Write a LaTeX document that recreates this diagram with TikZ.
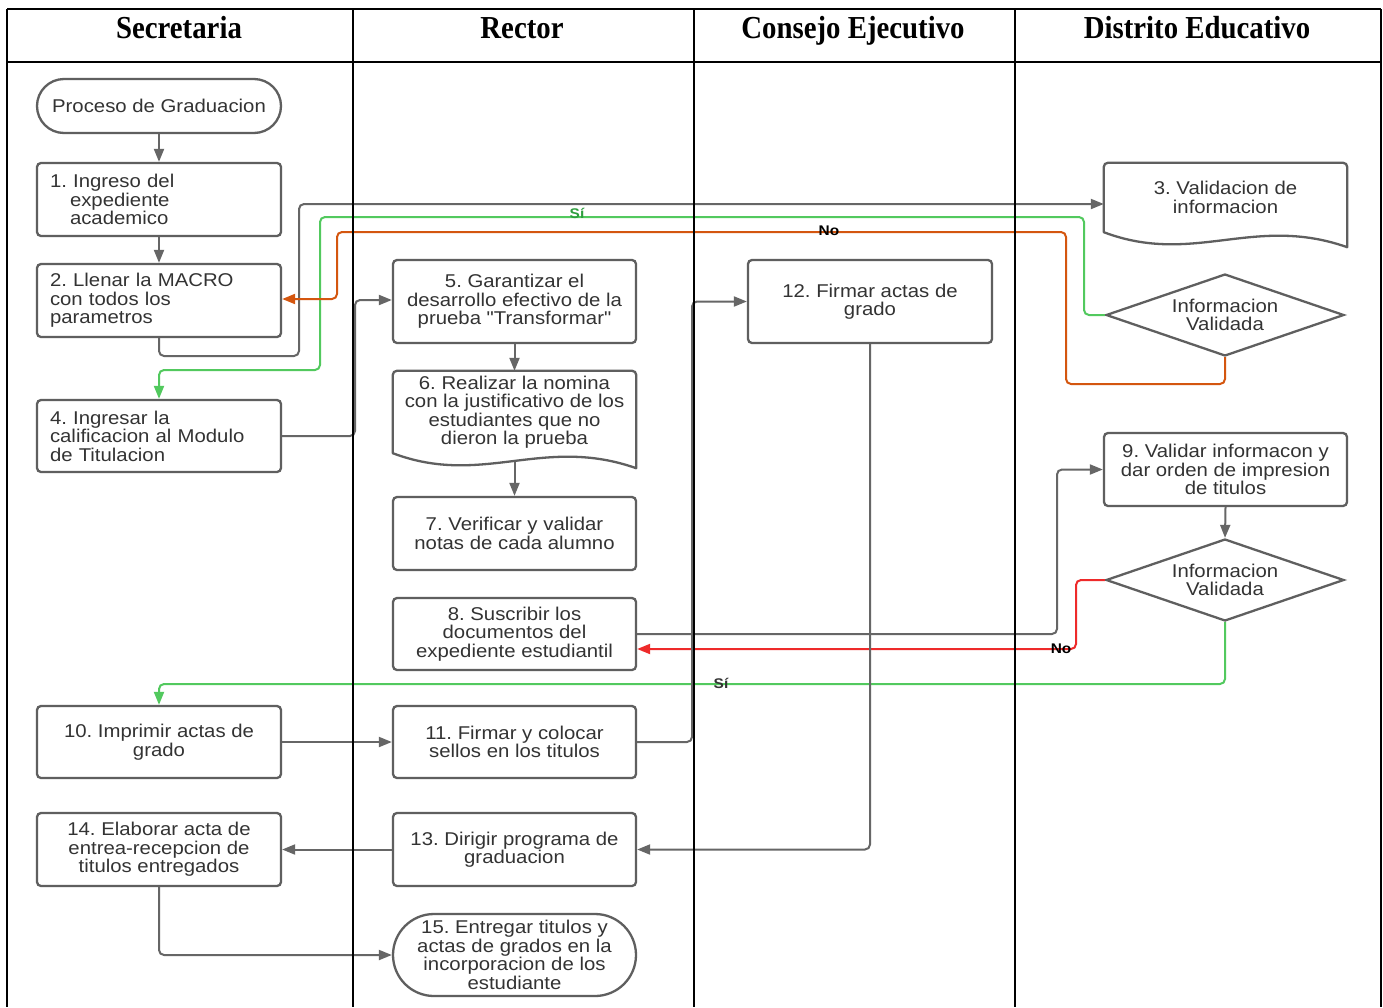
\documentclass[tikz,border=0pt]{standalone}
\usepackage{fontspec}
\setmainfont{Liberation Sans}[FakeStretch=1.1]
\newfontfamily\boxfamily{Liberation Sans}[FakeStretch=1.1]
\newfontfamily\headfont{Liberation Serif}[FakeStretch=0.9]
\usetikzlibrary{arrows.meta,shapes.geometric,calc}
\frenchspacing

\definecolor{boxline}{HTML}{5F5F5F}
\definecolor{boxtext}{HTML}{333333}
\definecolor{conngray}{HTML}{666666}
\definecolor{yesgreen}{HTML}{52C95E}
\definecolor{labgreen}{HTML}{2E9E3E}
\definecolor{nored}{HTML}{EE2A2A}
\definecolor{noorange}{HTML}{D4560F}

\newcommand\boxfont{\boxfamily\fontsize{18.5}{18.5}\selectfont}
\newcommand\lanefont{\headfont\bfseries\fontsize{32}{32}\selectfont}
\newcommand\labfont{\bfseries\fontsize{14}{14}\selectfont}

% document shape: flat top, wavy bottom edge
\newcommand\docpath[1]{%
  \draw[boxline, line width=2.3, line join=round]
    ($(#1.south east)+(0,15)$) .. controls ($(#1.south west)+(150,-18)$) and ($(#1.south west)+(90,34)$) .. (#1.south west)
    [rounded corners=4] -- (#1.north west) -- (#1.north east) [sharp corners] -- cycle;}

\tikzset{
  box/.style={draw=boxline, line width=2.3, rounded corners=4, text=boxtext,
    font=\boxfont, align=center, inner sep=0, minimum width=244, minimum height=73},
  leftbox/.style={box, align=left, text width=218},
  stadium/.style={box, rounded corners=#1},
  docbox/.style={inner sep=0, text=boxtext, font=\boxfont, align=center, minimum width=243},
  dia/.style={shape=diamond, draw=boxline, line width=2.3, aspect=2.9, inner sep=0,
    minimum width=238, minimum height=82, text=boxtext, font=\boxfont, align=center},
  conn/.style={draw=conngray, line width=2, rounded corners=5,
    -{Triangle[length=13,width=10]}},
  yesline/.style={conn, draw=yesgreen},
  noline/.style={conn, draw=noorange},
  redline/.style={conn, draw=nored},
  lbl/.style={font=\labfont, inner sep=0.5, anchor=south},
  lane/.style={draw=black, line width=2.2},
  headtxt/.style={font=\lanefont, anchor=base, text=black}
}

\begin{document}
\begin{tikzpicture}[x=1pt, y=-1pt]
\fill[white] (0,0) rectangle (1383,1007);
\useasboundingbox (0,0) rectangle (1383,1007);

% lane titles
\node[headtxt] (hsec) at (179,38) {Secretaria};
\node[headtxt] (hrec) at (522,38) {Rector};
\node[headtxt] (hcon) at (853,38) {Consejo Ejecutivo};
\node[headtxt] (hdis) at (1197,38) {Distrito Educativo};

% Secretaria
\node[stadium=27, minimum height=54] (start) at (159,106) {Proceso de Graduacion};
\node[leftbox] (n1) at (159,199.5) {1. Ingreso del\\\hspace*{20pt}expediente\\\hspace*{20pt}academico};
\node[leftbox] (n2) at (159,300.5) {2. Llenar la MACRO\\con todos los\\parametros};
\node[leftbox, minimum height=72] (n4) at (159,436) {4. Ingresar la\\calificacion al Modulo\\de Titulacion};
\node[box, minimum height=72] (n10) at (159,742) {10. Imprimir actas de\\grado};
\node[box] (n14) at (159,849.5) {14. Elaborar acta de\\entrea-recepcion de\\titulos entregados};

% Rector
\node[box, minimum width=243, minimum height=83] (n5) at (514.5,301.5) {5. Garantizar el\\desarrollo efectivo de la\\prueba "Transformar"};
\node[docbox, minimum height=82] (n6) at (514.5,412) {6. Realizar la nomina\\con la justificativo de los\\estudiantes que no\\dieron la prueba};
\docpath{n6}
\node[box, minimum width=243] (n7) at (514.5,533.5) {7. Verificar y validar\\notas de cada alumno};
\node[box, minimum width=243, minimum height=72] (n8) at (514.5,634) {8. Suscribir los\\documentos del\\expediente estudiantil};
\node[box, minimum width=243, minimum height=72] (n11) at (514.5,742) {11. Firmar y colocar\\sellos en los titulos};
\node[box, minimum width=243] (n13) at (514.5,849.5) {13. Dirigir programa de\\graduacion};
\node[stadium=41, minimum width=243, minimum height=82] (n15) at (514.5,955) {15. Entregar titulos y\\actas de grados en la\\incorporacion de los\\estudiante};

% Consejo Ejecutivo
\node[box, minimum height=83] (n12) at (870,301.5) {12. Firmar actas de\\grado};

% Distrito Educativo
\node[docbox, minimum height=69] (n3) at (1225.5,197.5) {3. Validacion de\\informacion};
\docpath{n3}
\node[dia] (d1) at (1225,315) {Informacion\\Validada};
\node[box, minimum width=243] (n9) at (1225.5,469.5) {9. Validar informacon y\\dar orden de impresion\\de titulos};
\node[dia] (d2) at (1225,580) {Informacion\\Validada};

% flow
\draw[conn] (start.south) -- (n1.north);
\draw[conn] (n1.south) -- (n2.north);
\draw[conn] (n2.south) -- (159,356) -- (299,356) -- (299,204) -- ($(n3.west)+(0,6.5)$);
\draw[yesline] (d1.west) -- (1084,315) -- (1084,217) -- (320,217) -- (320,370) -- (159,370) -- (n4.north);
\node[lbl, text=labgreen] (si1) at (577,219) {Sí};
\draw[noline] (d1.south) -- (1225,384) -- (1066,384) -- (1066,232) -- (337,232) -- (337,299) -- ($(n2.east)+(0,-1.5)$);
\node[lbl, text=black] (no1) at (829,236) {No};
\draw[conn] (n4.east) -- (355,436) -- (355,300) -- ($(n5.west)+(0,-1.5)$);
\draw[conn] (n5.south) -- (n6.north);
\draw[conn] ($(n6.south)+(0,9)$) -- (n7.north);
\draw[conn] (n8.east) -- (1057,634) -- (1057,469.5) -- (n9.west);
\draw[conn] (n9.south) -- (d2.north);
\draw[redline] (d2.west) -- (1076,580) -- (1076,649) -- ($(n8.east)+(0,15)$);
\node[lbl, text=black] (no2) at (1061,654) {No};
\draw[yesline] (d2.south) -- (1225,684) -- (159,684) -- (n10.north);
\node[lbl, text=boxtext] (si2) at (721,689) {Sí};
\draw[conn] (n10.east) -- (n11.west);
\draw[conn] (n11.east) -- (692,742) -- (692,301.5) -- (n12.west);
\draw[conn] (n12.south) -- (870,849.5) -- (n13.east);
\draw[conn] (n13.west) -- (n14.east);
\draw[conn] (n14.south) -- (159,955) -- (n15.west);

% swimlane frame
\draw[lane] (7,9) -- (1381,9);
\draw[lane] (7,62) -- (1381,62);
\draw[lane] (7,9) -- (7,1007);
\draw[lane] (353,9) -- (353,1007);
\draw[lane] (694,9) -- (694,1007);
\draw[lane] (1015,9) -- (1015,1007);
\draw[lane] (1381,9) -- (1381,1007);
\end{tikzpicture}
\end{document}
